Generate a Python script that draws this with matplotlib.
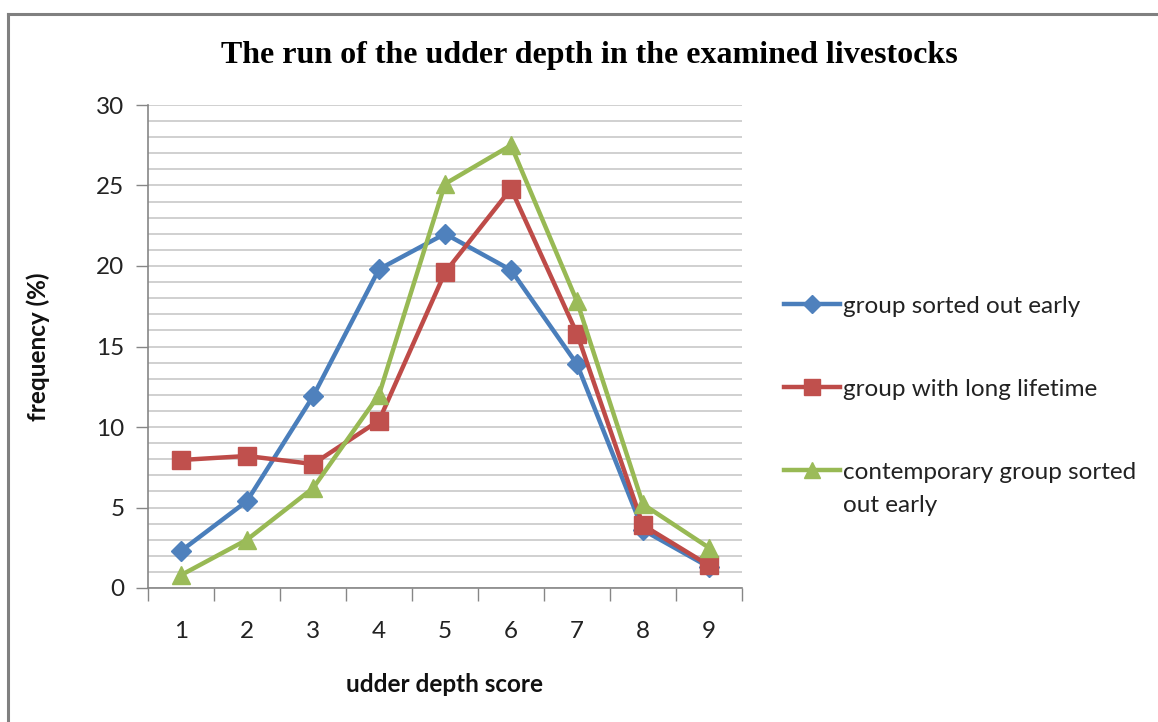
import matplotlib.pyplot as plt
from matplotlib.lines import Line2D
import numpy as np

scores = [1, 2, 3, 4, 5, 6, 7, 8, 9]
sorted_early = [2.3, 5.4, 11.9, 19.8, 22.0, 19.75, 13.9, 3.6, 1.3]
long_lifetime = [7.95, 8.2, 7.7, 10.4, 19.6, 24.8, 15.8, 3.9, 1.4]
contemporary = [0.8, 3.0, 6.2, 12.0, 25.1, 27.5, 17.8, 5.2, 2.5]

labels = ['group sorted out early',
          'group with long lifetime',
          'contemporary group sorted out early']

blue = '#4A7EBB'
red = '#BE4B48'
green = '#98B954'
grid_col = '#C8C8C8'
axis_col = '#868686'

plt.rcParams['font.family'] = ['Lato', 'DejaVu Sans']

fig = plt.figure(figsize=(11.58, 7.22), dpi=100)
ax = fig.add_axes([148 / 1158, 1 - 588 / 722, (742 - 148) / 1158, (588 - 105) / 722])

x = np.array(scores)
ax.plot(x, sorted_early, color=blue, lw=3.2, marker='D', ms=10, mfc='#4F81BD', mec='#4F81BD',
        label=labels[0], zorder=3)
ax.plot(x, long_lifetime, color=red, lw=3.2, marker='s', ms=13, mfc='#C0504D', mec='#C0504D',
        label=labels[1], zorder=4)
ax.plot(x, contemporary, color=green, lw=3.2, marker='^', ms=13, mfc='#9BBB59', mec='#9BBB59',
        label=labels[2], zorder=5)

ax.set_xlim(0.5, 9.5)
ax.set_ylim(0, 30)

# y axis: majors every 5, gridlines every 1
ax.set_yticks(np.arange(0, 31, 5))
ax.set_yticks(np.arange(0, 31, 1), minor=True)
ax.yaxis.grid(True, which='both', color=grid_col, lw=1.2)
ax.set_axisbelow(True)
ax.tick_params(axis='y', which='major', length=9, width=1, color=axis_col,
               labelsize=17.5, labelcolor='#222222', pad=8)
ax.tick_params(axis='y', which='minor', length=0)

# x axis: tick marks between categories, labels at centres
ax.set_xticks(np.arange(0.5, 10, 1))
ax.set_xticklabels([])
ax.set_xticks(x, minor=True)
ax.set_xticklabels([str(s) for s in scores], minor=True)
ax.tick_params(axis='x', which='major', length=9, width=1, color=axis_col, direction='out')
ax.tick_params(axis='x', which='minor', length=0, labelsize=17.5, labelcolor='#222222', pad=24)

for side in ['top', 'right']:
    ax.spines[side].set_visible(False)
for side in ['left', 'bottom']:
    ax.spines[side].set_color(axis_col)
    ax.spines[side].set_linewidth(1.2)

ax.set_xlabel('udder depth score', fontsize=17.5, fontweight='bold', color='#111111', labelpad=22)
ax.set_ylabel('frequency (%)', fontsize=17.5, fontweight='bold', color='#111111', labelpad=33)

fig.text(0.509, 1 - 55 / 722, 'The run of the udder depth in the examined livestocks',
         ha='center', va='center', fontsize=23, fontweight='bold',
         family=['Liberation Serif', 'DejaVu Serif'])

handles = [
    Line2D([], [], color=blue, lw=3.2, marker='D', ms=9, mfc='#4F81BD', mec='#4F81BD'),
    Line2D([], [], color=red, lw=3.2, marker='s', ms=11, mfc='#C0504D', mec='#C0504D'),
    Line2D([], [], color=green, lw=3.2, marker='^', ms=11, mfc='#9BBB59', mec='#9BBB59'),
]
# the last label wraps in the original; its first line sits in the legend
leg_labels = labels[:2] + ['contemporary group sorted']
leg = fig.legend(handles, leg_labels, loc='upper left', bbox_to_anchor=(762 / 1158, 1 - 274 / 722),
                 frameon=False, fontsize=17.5, handlelength=2.3, handletextpad=0.15,
                 labelspacing=2.55, labelcolor='#222222')

fig.canvas.draw()
bb = leg.get_texts()[2].get_window_extent().transformed(fig.transFigure.inverted())
fig.text(bb.x0, bb.y0 - 33 / 722, 'out early', ha='left', va='bottom',
         fontsize=17.5, color='#222222')

# chart-area frame
fig.add_artist(Line2D([8 / 1158, 8 / 1158], [0, 1 - 14 / 722], transform=fig.transFigure,
                      color='#808080', lw=2.2))
fig.add_artist(Line2D([8 / 1158, 1], [1 - 14 / 722, 1 - 14 / 722], transform=fig.transFigure,
                      color='#808080', lw=2.2))

fig.savefig('out.png', dpi=100)
